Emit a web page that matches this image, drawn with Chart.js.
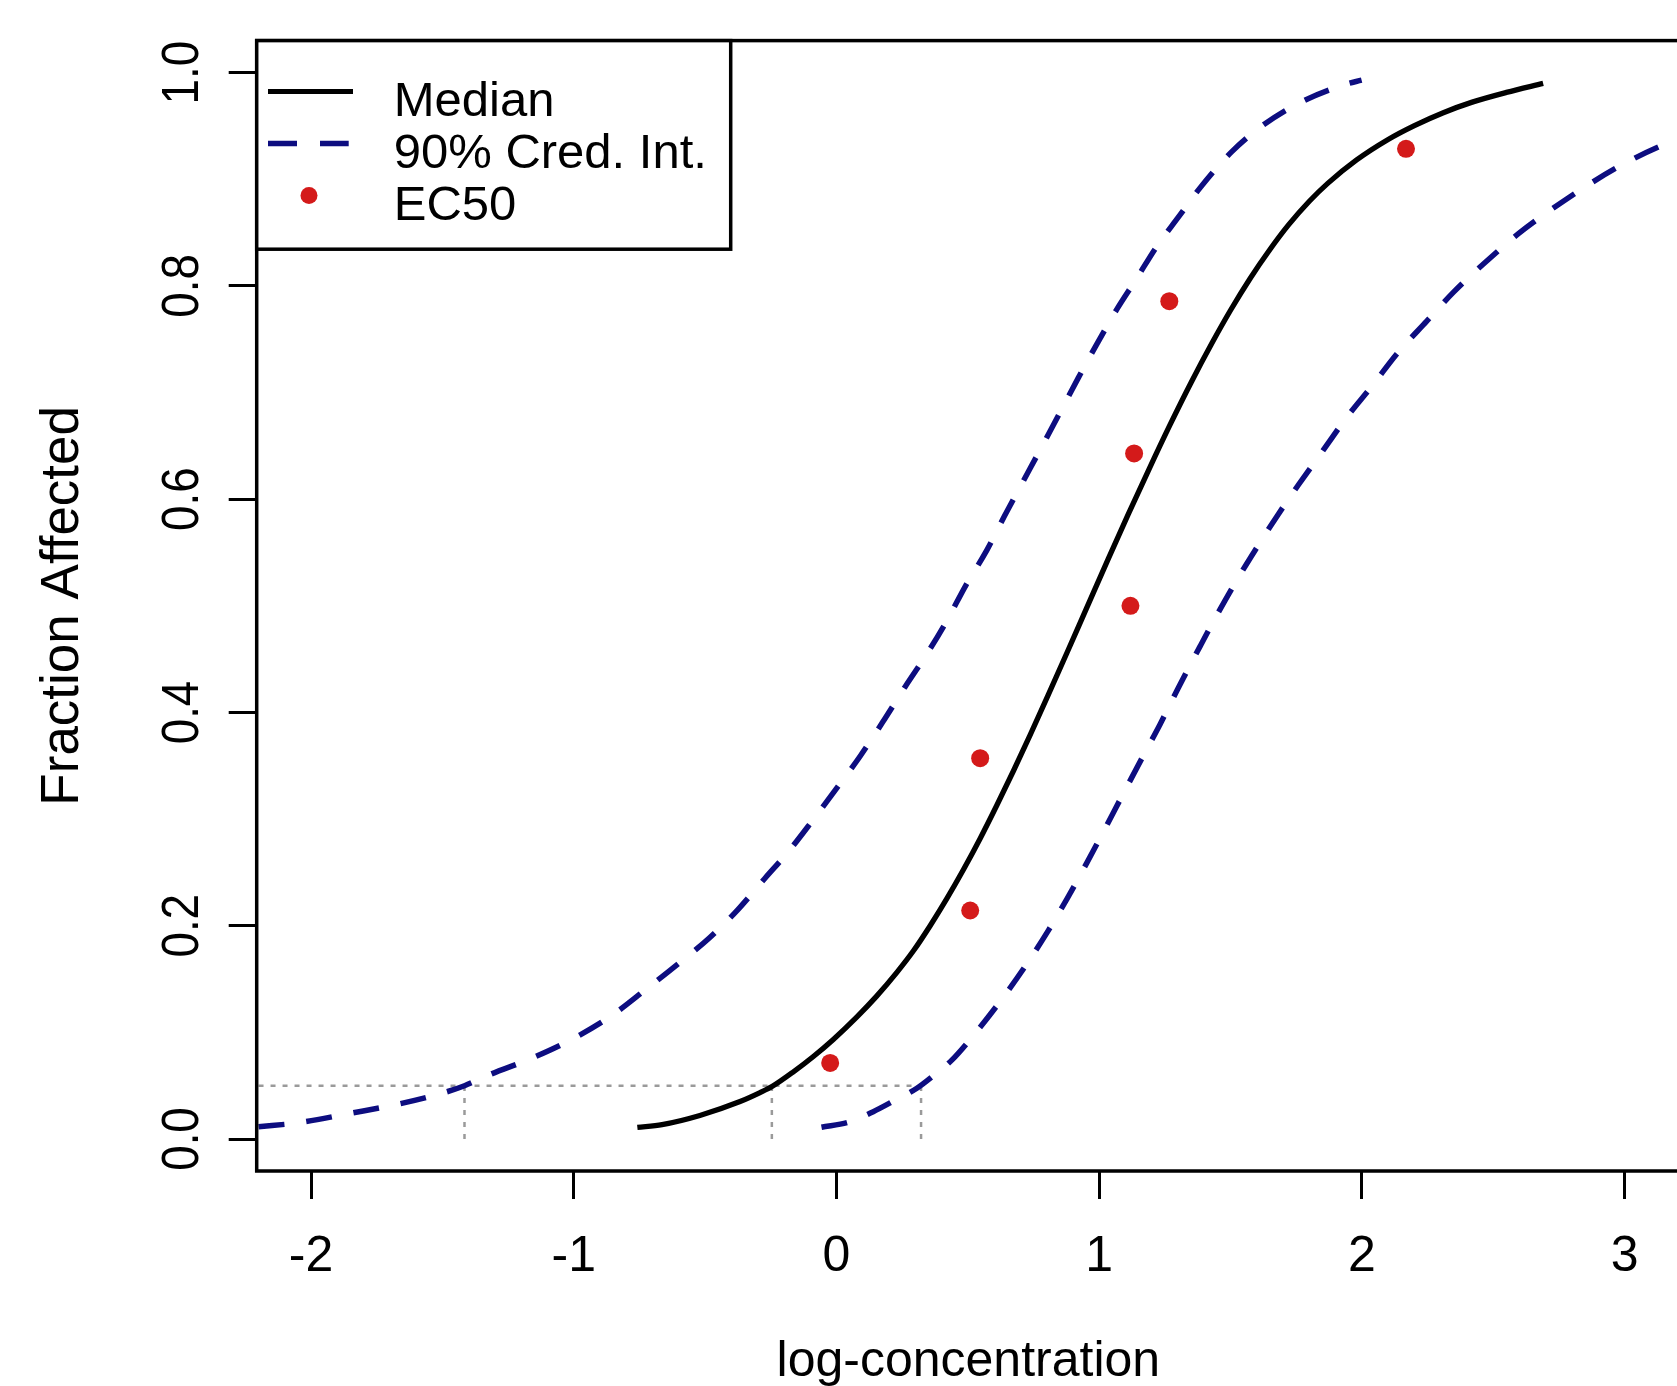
<!DOCTYPE html>
<html>
<head>
<meta charset="utf-8">
<title>Fraction Affected vs log-concentration</title>
<script src="https://cdn.jsdelivr.net/npm/chart.js@4.4.1/dist/chart.umd.min.js"></script>
<style>
  html, body { margin: 0; padding: 0; background: #fff; overflow: hidden; }
  #wrap { width: 1677px; height: 1386px; overflow: hidden; }
  canvas { display: block; }
</style>
</head>
<body>
<div id="wrap"><canvas id="doseChart" width="1700" height="1386"></canvas></div>
<script>
// values
const medianX = [-0.758, -0.664, -0.52, -0.367, -0.291, -0.244, -0.164, -0.088, -0.012, 0.077, 0.153, 0.23, 0.293, 0.356, 0.42, 0.483, 0.547, 0.61, 0.673, 0.737, 0.807, 0.877, 0.95, 1.035, 1.11, 1.19, 1.27, 1.35, 1.43, 1.5, 1.574, 1.65, 1.72, 1.8, 1.87, 1.98, 2.1, 2.2, 2.31, 2.42, 2.55, 2.69];
const medianY = [0.011, 0.0135, 0.0221, 0.0351, 0.0435, 0.0494, 0.063, 0.0774, 0.0934, 0.1143, 0.134, 0.1563, 0.1765, 0.1998, 0.2254, 0.2525, 0.2819, 0.3128, 0.3449, 0.3788, 0.417, 0.4558, 0.4967, 0.5443, 0.5855, 0.6283, 0.6699, 0.7095, 0.7467, 0.7772, 0.8068, 0.8342, 0.857, 0.8794, 0.8962, 0.9182, 0.9374, 0.9504, 0.9625, 0.9724, 0.9815, 0.99];

// upper credible bound (left dashed curve)
const upperX = [-2.2, -2.047, -1.853, -1.666, -1.495, -1.416, -1.324, -1.155, -1.0, -0.854, -0.727, -0.604, -0.482, -0.376, -0.272, -0.183, -0.094, 0.001, 0.09, 0.176, 0.261, 0.347, 0.42, 0.492, 0.572, 0.639, 0.711, 0.781, 0.85, 0.921, 0.99, 1.067, 1.14, 1.219, 1.3, 1.384, 1.505, 1.625, 1.765, 1.936, 1.999];
const upperY = [0.0115, 0.0153, 0.024, 0.0328, 0.0434, 0.05, 0.06, 0.0763, 0.0944, 0.116, 0.14, 0.164, 0.189, 0.215, 0.2446, 0.2695, 0.2977, 0.329, 0.359, 0.391, 0.424, 0.456, 0.486, 0.519, 0.552, 0.584, 0.617, 0.649, 0.681, 0.714, 0.745, 0.778, 0.806, 0.837, 0.864, 0.892, 0.926, 0.951, 0.972, 0.989, 0.993];

// lower credible bound (right dashed curve)
const lowerX = [-0.057, 0.05, 0.14, 0.22, 0.306, 0.372, 0.439, 0.534, 0.638, 0.724, 0.805, 0.877, 0.953, 1.022, 1.092, 1.168, 1.232, 1.301, 1.384, 1.454, 1.526, 1.606, 1.682, 1.76, 1.853, 1.943, 2.038, 2.139, 2.247, 2.348, 2.469, 2.596, 2.723, 2.869, 3.008, 3.154, 3.3];
const lowerY = [0.011, 0.016, 0.0256, 0.036, 0.0476, 0.06, 0.074, 0.101, 0.134, 0.164, 0.195, 0.225, 0.259, 0.291, 0.324, 0.3595, 0.389, 0.423, 0.462, 0.494, 0.525, 0.557, 0.586, 0.614, 0.646, 0.677, 0.706, 0.738, 0.767, 0.794, 0.822, 0.849, 0.872, 0.896, 0.916, 0.933, 0.947];

const ec50X = [-0.024, 0.509, 0.547, 1.119, 1.133, 1.267, 2.168];
const ec50Y = [0.0714, 0.2143, 0.3571, 0.5, 0.6429, 0.7857, 0.9286];

// EC5 guide lines
const refLevel = 0.05;
const refStartX = -2.2;
const ec5X = [-1.416, -0.246, 0.322];

const xTicks = [-2, -1, 0, 1, 2, 3];
const xTickLabels = ["-2", "-1", "0", "1", "2", "3"];
const yTicks = [0, 0.2, 0.4, 0.6, 0.8, 1.0];
const yTickLabels = ["0.0", "0.2", "0.4", "0.6", "0.8", "1.0"];

const legendLabels = ["Median", "90% Cred. Int.", "EC50"];

const FONT = '"Liberation Sans", Arial, sans-serif';
const NAVY = "#0d0d80";
const RED = "#d41a1a";
const GREY = "#9a9a9a";

const toPoints = (xs, ys) => xs.map((x, i) => ({ x, y: ys[i] }));

Chart.defaults.font.family = FONT;
Chart.defaults.color = "#000";

const curve = (data, color, width, dash) => ({
  data,
  showLine: true,
  borderColor: color,
  borderWidth: width,
  borderDash: dash,
  pointRadius: 0,
  cubicInterpolationMode: "monotone",
});

const guide = (data) => ({
  data,
  showLine: true,
  borderColor: GREY,
  borderWidth: 2.5,
  borderDash: [5, 7],
  pointRadius: 0,
});

const guideSets = [
  guide([{ x: refStartX, y: refLevel }, { x: ec5X[ec5X.length - 1], y: refLevel }]),
  ...ec5X.map((x) => guide([{ x, y: 0 }, { x, y: refLevel }])),
];

// draws the frame round the plot region
const boxPlugin = {
  id: "plotBox",
  afterDatasetsDraw(chart) {
    const { ctx, chartArea: a } = chart;
    ctx.save();
    ctx.strokeStyle = "#000";
    ctx.lineWidth = 3.5;
    ctx.strokeRect(a.left, a.top, a.right - a.left, a.bottom - a.top);
    ctx.restore();
  },
};

// R style legend in the top left corner
const legendPlugin = {
  id: "rLegend",
  afterDatasetsDraw(chart) {
    const { ctx, chartArea: a } = chart;
    const left = a.left;
    const top = a.top;
    const sampleY = [51, 103, 155].map((d) => top + d);
    const textY = [75, 127, 179].map((d) => top + d);

    ctx.save();
    ctx.fillStyle = "#fff";
    ctx.fillRect(left, top, 474, 208.6);
    ctx.strokeStyle = "#000";
    ctx.lineWidth = 3.5;
    ctx.strokeRect(left, top, 474, 208.6);

    ctx.lineWidth = 5;
    ctx.beginPath();
    ctx.moveTo(left + 11.3, sampleY[0]);
    ctx.lineTo(left + 96.3, sampleY[0]);
    ctx.stroke();

    ctx.strokeStyle = NAVY;
    ctx.lineWidth = 5.5;
    ctx.setLineDash([29, 23]);
    ctx.beginPath();
    ctx.moveTo(left + 11.3, sampleY[1]);
    ctx.lineTo(left + 92, sampleY[1]);
    ctx.stroke();
    ctx.setLineDash([]);

    ctx.fillStyle = RED;
    ctx.beginPath();
    ctx.arc(left + 52.3, sampleY[2], 8.5, 0, Math.PI * 2);
    ctx.fill();

    ctx.fillStyle = "#000";
    ctx.font = `49px ${FONT}`;
    ctx.textAlign = "left";
    ctx.textBaseline = "alphabetic";
    legendLabels.forEach((t, i) => ctx.fillText(t, left + 137, textY[i]));
    ctx.restore();
  },
};

// y tick labels, turned to read upwards like R's default
const yLabelPlugin = {
  id: "yLabels",
  afterDraw(chart) {
    const { ctx } = chart;
    const y = chart.scales.y;
    ctx.save();
    ctx.fillStyle = "#000";
    ctx.font = `52px ${FONT}`;
    ctx.textAlign = "center";
    ctx.textBaseline = "alphabetic";
    yTicks.forEach((v, i) => {
      ctx.save();
      ctx.translate(198, y.getPixelForValue(v));
      ctx.rotate(-Math.PI / 2);
      ctx.scale(0.88, 1);
      ctx.fillText(yTickLabels[i], 0, 0);
      ctx.restore();
    });
    ctx.restore();
  },
};

const tickGrid = {
  drawOnChartArea: false,
  drawTicks: true,
  tickLength: 28,
  tickWidth: 3,
  tickColor: "#000",
  color: "#000",
  lineWidth: 3,
};

const ctx = document.getElementById("doseChart").getContext("2d");
new Chart(ctx, {
  type: "scatter",
  data: {
    datasets: [
      {
        data: toPoints(ec50X, ec50Y),
        pointRadius: 9,
        pointBackgroundColor: RED,
        pointBorderWidth: 0,
        showLine: false,
      },
      curve(toPoints(medianX, medianY), "#000", 5.3, []),
      curve(toPoints(upperX, upperY), NAVY, 5.5, [26, 22]),
      curve(toPoints(lowerX, lowerY), NAVY, 5.5, [26, 22]),
      ...guideSets,
    ],
  },
  options: {
    responsive: false,
    devicePixelRatio: 1,
    animation: false,
    layout: { padding: { top: 40.6, right: 20, left: 0, bottom: 0 } },
    plugins: {
      legend: { display: false },
      tooltip: { enabled: false },
    },
    scales: {
      x: {
        type: "linear",
        min: -2.207,
        max: 3.211,
        afterBuildTicks: (s) => {
          s.ticks = xTicks.map((v) => ({ value: v }));
        },
        afterFit: (s) => {
          s.height = 215;
        },
        ticks: {
          autoSkip: false,
          maxRotation: 0,
          padding: 28,
          font: { size: 50 },
          color: "#000",
          callback: (v, i) => xTickLabels[i],
        },
        grid: tickGrid,
        border: { display: false },
        title: {
          display: true,
          text: "log-concentration",
          font: { size: 50 },
          color: "#000",
          padding: { top: 0, bottom: -6 },
        },
      },
      y: {
        type: "linear",
        min: -0.03,
        max: 1.0301,
        afterBuildTicks: (s) => {
          s.ticks = yTicks.map((v) => ({ value: v }));
        },
        afterFit: (s) => {
          s.width = 256.7;
        },
        ticks: { display: false },
        grid: tickGrid,
        border: { display: false },
        title: {
          display: true,
          text: "Fraction Affected",
          font: { size: 53 },
          color: "#000",
          padding: { top: 32, bottom: 0 },
        },
      },
    },
  },
  plugins: [boxPlugin, legendPlugin, yLabelPlugin],
});
</script>
</body>
</html>
